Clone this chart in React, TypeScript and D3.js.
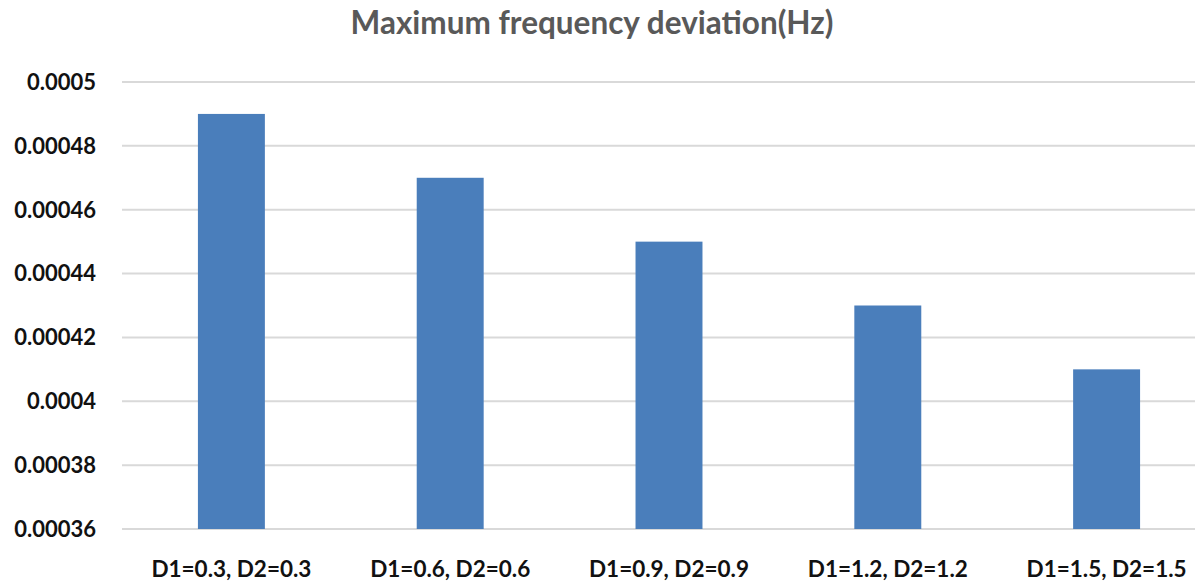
import React from "react";
import * as d3 from "d3";

const categories = ["D1=0.3, D2=0.3", "D1=0.6, D2=0.6", "D1=0.9, D2=0.9", "D1=1.2, D2=1.2", "D1=1.5, D2=1.5"];
const values = [0.00049, 0.00047, 0.00045, 0.00043, 0.00041];
const yTicks = [0.00036, 0.00038, 0.0004, 0.00042, 0.00044, 0.00046, 0.00048, 0.0005];
const yTickLabels = ["0.00036", "0.00038", "0.0004", "0.00042", "0.00044", "0.00046", "0.00048", "0.0005"];
const title = "Maximum frequency deviation(Hz)";

const W = 1195;
const H = 588;
const left = 122;
const right = 1216;
const top = 82;
const bottom = 529;

export default function App() {
  const x = d3.scaleBand<string>().domain(categories).range([left, right]).paddingInner(0.694).paddingOuter(0.347);
  const y = d3.scaleLinear().domain([0.00036, 0.0005]).range([bottom, top]);
  const font = "Lato, 'Open Sans', sans-serif";
  return (
    <svg width={W} height={H} style={{ position: "absolute", left: 0, top: 0, background: "#fff" }}>
      <rect x={0} y={0} width={W} height={H} fill="#fff" />
      <text x={592} y={34} textAnchor="middle" fontFamily={font} fontWeight={700} fontSize={31.5} fill="#595959">
        {title}
      </text>
      {yTicks.map((t, i) => (
        <g key={i}>
          <line x1={left} x2={right} y1={y(t)} y2={y(t)} stroke="#d9d9d9" strokeWidth={2} />
          <text x={96} y={y(t)} dy="0.36em" textAnchor="end" fontFamily={font} fontWeight={700} fontSize={22} fill="#111">
            {yTickLabels[i]}
          </text>
        </g>
      ))}
      {categories.map((c, i) => (
        <g key={c}>
          <rect x={x(c)} y={y(values[i])} width={x.bandwidth()} height={bottom - y(values[i])} fill="#4a7ebb" />
          <text x={(x(c) as number) + x.bandwidth() / 2} y={577} textAnchor="middle" fontFamily={font} fontWeight={700} fontSize={22.5} fill="#111">
            {c}
          </text>
        </g>
      ))}
    </svg>
  );
}
